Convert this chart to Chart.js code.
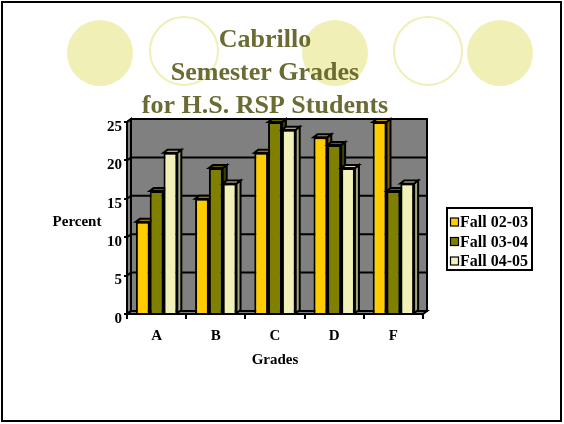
<!DOCTYPE html>
<html>
<head>
<meta charset="utf-8">
<script src="https://cdn.jsdelivr.net/npm/chart.js@4.4.0/dist/chart.umd.min.js"></script>
<style>
  body { margin: 0; background: #fff; }
  canvas { display: block; }
</style>
</head>
<body>
<canvas id="grafico" width="564" height="424"></canvas>
<script>
const categorias = ["A", "B", "C", "D", "F"];
const fall0203 = [12, 15, 21, 23, 25];
const fall0304 = [16, 19, 25, 22, 16];
const fall0405 = [21, 17, 24, 19, 17];
const nombresSeries = ["Fall 02-03", "Fall 03-04", "Fall 04-05"];
const ticksY = [0, 5, 10, 15, 20, 25];
const tituloLineas = ["Cabrillo", "Semester Grades", "for H.S. RSP Students"];

const SERIF = '"Liberation Serif", "Times New Roman", serif';
const colores = ["#ffcc00", "#808000", "#f0f0b8"];
const coloresLado = ["#806000", "#404000", "#a8a878"];
const coloresArriba = ["#c89a00", "#606000", "#d8d8a0"];
const DX = 4, DY = 3; // profundidad del efecto 3D

function poligono(ctx, pts, fill) {
  ctx.beginPath();
  ctx.moveTo(pts[0][0], pts[0][1]);
  for (let i = 1; i < pts.length; i++) ctx.lineTo(pts[i][0], pts[i][1]);
  ctx.closePath();
  ctx.fillStyle = fill;
  ctx.fill();
  ctx.stroke();
}

// fondo de la diapositiva, titulo, paredes del grafico
const fondo = {
  id: "fondo",
  beforeDraw(chart) {
    const ctx = chart.ctx;
    const { left, right, top, bottom } = chart.chartArea;
    const y = chart.scales.y;
    ctx.save();
    ctx.fillStyle = "#fff";
    ctx.fillRect(0, 0, chart.width, chart.height);

    // circulos decorativos
    ctx.fillStyle = "#efefb6";
    ctx.strokeStyle = "#efefb6";
    ctx.lineWidth = 2;
    [[100, 53, 33, true], [184, 51, 34, false], [335, 53, 33, true], [428, 51, 34, false], [500, 53, 33, true]]
      .forEach(([cx, cy, r, lleno]) => {
        ctx.beginPath();
        ctx.arc(cx, cy, r, 0, Math.PI * 2);
        if (lleno) ctx.fill(); else ctx.stroke();
      });

    // titulo
    ctx.fillStyle = "#6b6b33";
    ctx.font = "bold 26px " + SERIF;
    ctx.textAlign = "center";
    ctx.textBaseline = "alphabetic";
    tituloLineas.forEach((t, i) => ctx.fillText(t, 265, 47 + i * 33));

    // borde de la diapositiva
    ctx.strokeStyle = "#000";
    ctx.lineWidth = 2;
    ctx.strokeRect(2, 2, 559, 419);

    // etiqueta del eje Y (horizontal)
    ctx.fillStyle = "#000";
    ctx.font = "bold 15px " + SERIF;
    ctx.textBaseline = "middle";
    ctx.fillText("Percent", 77, 222);

    // paredes
    ctx.strokeStyle = "#000";
    ctx.lineWidth = 2;
    ctx.lineJoin = "miter";
    poligono(ctx, [[left + DX, top - DY], [right + DX, top - DY], [right + DX, bottom - DY], [left + DX, bottom - DY]], "#808080");
    poligono(ctx, [[left, top], [left + DX, top - DY], [left + DX, bottom - DY], [left, bottom]], "#808080");
    poligono(ctx, [[left, bottom], [left + DX, bottom - DY], [right + DX, bottom - DY], [right, bottom]], "#808080");

    // lineas de cuadricula en la pared del fondo
    ticksY.forEach(v => {
      const py = y.getPixelForValue(v);
      ctx.beginPath();
      ctx.moveTo(left, py);
      ctx.lineTo(left + DX, py - DY);
      ctx.lineTo(right + DX, py - DY);
      ctx.stroke();
    });
    ctx.restore();
  }
};

// barras 3D dibujadas en orden de izquierda a derecha
const barras3d = {
  id: "barras3d",
  beforeDatasetDraw() {
    return false;
  },
  afterDatasetsDraw(chart) {
    const ctx = chart.ctx;
    const metas = chart.data.datasets.map((d, i) => chart.getDatasetMeta(i));
    ctx.save();
    ctx.strokeStyle = "#000";
    ctx.lineWidth = 2;
    ctx.lineJoin = "miter";
    for (let c = 0; c < categorias.length; c++) {
      metas.forEach((meta, d) => {
        const bar = meta.data[c];
        const { x, y, base, width } = bar.getProps(["x", "y", "base", "width"], true);
        const l = x - width / 2, r = x + width / 2;
        poligono(ctx, [[r, y], [r + DX, y - DY], [r + DX, base - DY], [r, base]], coloresLado[d]);
        poligono(ctx, [[l, y], [l + DX, y - DY], [r + DX, y - DY], [r, y]], coloresArriba[d]);
        bar.draw(ctx);
      });
    }
    ctx.restore();
  }
};

// leyenda con recuadro
const leyenda = {
  id: "leyenda",
  afterDraw(chart) {
    const ctx = chart.ctx;
    ctx.save();
    ctx.strokeStyle = "#000";
    ctx.lineWidth = 2;
    ctx.strokeRect(447, 208, 85, 62);
    ctx.font = "bold 16px " + SERIF;
    ctx.textAlign = "left";
    ctx.textBaseline = "middle";
    chart.data.datasets.forEach((ds, i) => {
      const cy = 222 + i * 19.5;
      ctx.fillStyle = ds.backgroundColor;
      ctx.fillRect(450.5, cy - 4, 8, 8);
      ctx.lineWidth = 1.2;
      ctx.strokeRect(450.5, cy - 4, 8, 8);
      ctx.fillStyle = "#000";
      ctx.fillText(ds.label, 460, cy + 1);
    });
    ctx.restore();
  }
};

const series = [fall0203, fall0304, fall0405];

const ctx = document.getElementById("grafico").getContext("2d");
const chart = new Chart(ctx, {
  type: "bar",
  data: {
    labels: categorias,
    datasets: series.map((valores, i) => ({
      label: nombresSeries[i],
      data: valores,
      backgroundColor: colores[i],
      borderColor: "#000",
      borderWidth: 2,
      categoryPercentage: 0.7,
      barPercentage: 1
    }))
  },
  options: {
    responsive: false,
    animation: false,
    layout: { padding: { left: 0, right: 141, top: 122, bottom: 0 } },
    plugins: {
      legend: { display: false },
      title: { display: false },
      tooltip: { enabled: false }
    },
    scales: {
      x: {
        afterFit: s => { s.height = 110; },
        grid: { drawOnChartArea: false, color: "#000", lineWidth: 2, tickLength: 5 },
        border: { color: "#000", width: 2 },
        ticks: { color: "#000", font: { family: SERIF, size: 15, weight: "bold" }, padding: 8 },
        title: {
          display: true,
          text: "Grades",
          color: "#000",
          font: { family: SERIF, size: 15, weight: "bold" },
          padding: { top: 0, bottom: 55 }
        }
      },
      y: {
        min: 0,
        max: 25,
        afterFit: s => { s.width = 127; },
        afterBuildTicks: s => { s.ticks = ticksY.map(v => ({ value: v })); },
        grid: { drawOnChartArea: false, color: "#000", lineWidth: 2, tickLength: 3 },
        border: { color: "#000", width: 2 },
        ticks: { color: "#000", font: { family: SERIF, size: 15, weight: "bold" }, padding: 2, labelOffset: 5 }
      }
    }
  },
  plugins: [fondo, barras3d, leyenda]
});
</script>
</body>
</html>
